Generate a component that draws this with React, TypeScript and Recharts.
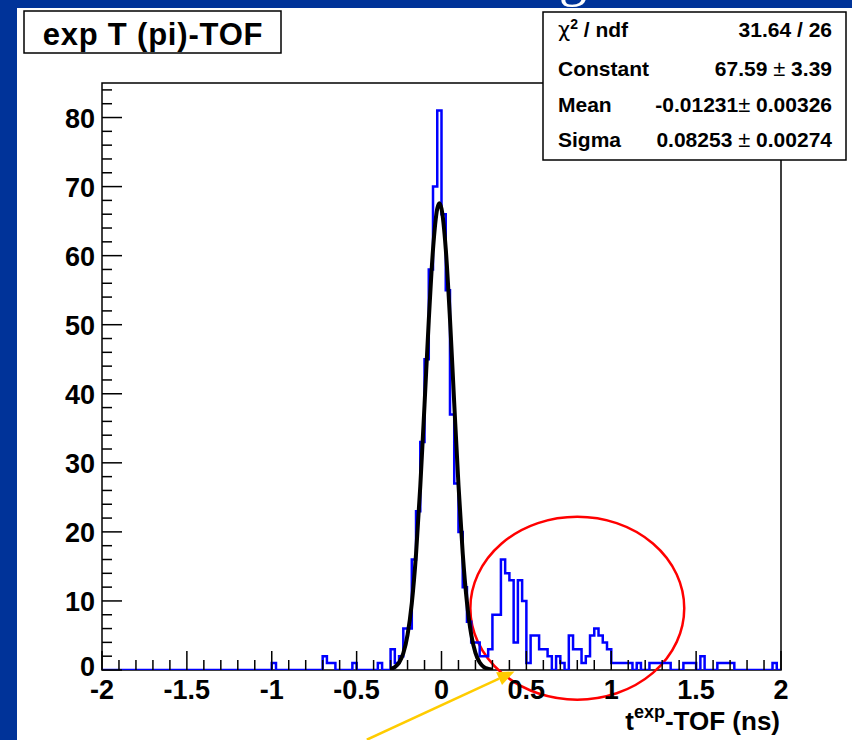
import {
  ComposedChart,
  Line,
  XAxis,
  YAxis,
  ReferenceArea,
  ReferenceLine,
} from "recharts";

// histogram: 160 bins of 0.025 ns from -2 to 2
const binStart = -2;
const binWidth = 0.025;
const binCounts = [
  // -2.0 .. -1.525
  0, 0, 0, 0, 0, 0, 0, 0, 0, 0, 0, 0, 0, 0, 0, 0, 0, 0, 0, 0,
  // -1.5 .. -1.025
  0, 0, 0, 0, 0, 0, 0, 0, 0, 0, 0, 0, 0, 0, 0, 0, 0, 0, 0, 0,
  // -1.0 .. -0.525
  1, 0, 0, 0, 0, 0, 0, 0, 0, 0, 0, 0, 2, 1, 1, 0, 0, 0, 0, 1,
  // -0.5 .. -0.025
  0, 0, 0, 0, 0, 1, 0, 0, 3, 1, 2, 6, 6, 16, 23, 33, 45, 58, 70, 81,
  // 0.0 .. 0.475
  66, 55, 37, 27, 20, 12, 7, 4, 4, 2, 2, 3, 8, 8, 16, 14, 13, 4, 13, 10,
  // 0.5 .. 0.975
  1, 5, 5, 3, 3, 2, 0, 2, 1, 0, 5, 3, 3, 1, 2, 5, 6, 5, 4, 3,
  // 1.0 .. 1.475
  1, 1, 1, 1, 1, 0, 1, 0, 0, 1, 1, 1, 1, 1, 0, 0, 0, 1, 1, 1,
  // 1.5 .. 1.975
  0, 2, 0, 0, 0, 1, 1, 1, 1, 0, 0, 0, 0, 0, 0, 0, 0, 0, 1, 0,
];

// gaussian fit curve
const fitX = [
  -0.3, -0.275, -0.25, -0.225, -0.2, -0.175, -0.15, -0.125, -0.1, -0.075, -0.05,
  -0.025, -0.0125, 0, 0.025, 0.05, 0.075, 0.1, 0.125, 0.15, 0.175, 0.2, 0.225,
  0.25, 0.275, 0.3,
];
const fitY = [
  0.15, 0.43, 1.07, 2.43, 5.09, 9.67, 16.8, 26.6, 38.4, 50.6, 60.9, 66.8, 67.6,
  66.8, 61.0, 50.8, 38.6, 26.8, 16.9, 9.77, 5.14, 2.47, 1.08, 0.43, 0.16, 0.05,
];

const xTickLabels = ["-2", "-1.5", "-1", "-0.5", "0", "0.5", "1", "1.5", "2"];
const yTickLabels = ["0", "10", "20", "30", "40", "50", "60", "70", "80"];

const statLabels = ["χ² / ndf", "Constant", "Mean", "Sigma"];
const statValues = [
  ["31.64 / 26", ""],
  ["67.59 ", " 3.39"],
  ["-0.01231", " 0.00326"],
  ["0.08253 ", " 0.00274"],
];

// annotation placement in data units
const circleBox = { x1: 0.17, x2: 1.43, y1: -4.3, y2: 22.2 };
const arrowFrom = { x: -0.44, y: -10.1 };
const arrowTo = { x: 0.43, y: -0.2 };

const histData = binCounts.map((c, k) => ({
  x: Math.round((binStart + k * binWidth) * 1000) / 1000,
  y: c,
}));
histData.push({ x: 2, y: binCounts[binCounts.length - 1] });

const fitData = fitX.map((x, i) => ({ x, y: fitY[i] }));

const xTicks: number[] = [];
for (let i = 0; i <= 40; i++) xTicks.push(Math.round((-2 + i * 0.1) * 10) / 10);
const yTicks: number[] = [];
for (let i = 0; i <= 42; i++) yTicks.push(i * 2);

const FONT = "'Liberation Sans', Arial, Helvetica, sans-serif";

const XTick = (props: any) => {
  const { x, y, payload } = props;
  const v = payload.value;
  const major = Math.abs(v * 2 - Math.round(v * 2)) < 1e-6;
  const label = xTickLabels[Math.round((v + 2) * 2)];
  return (
    <g>
      <line x1={x} y1={y} x2={x} y2={y - (major ? 19 : 10)} stroke="#000" strokeWidth={1.5} />
      {major && (
        <text x={x} y={y + 29} textAnchor="middle" fontFamily={FONT} fontWeight="bold" fontSize={27} fill="#000">
          {label}
        </text>
      )}
    </g>
  );
};

const YTick = (props: any) => {
  const { x, y, payload } = props;
  const v = payload.value;
  const major = v % 10 === 0;
  return (
    <g>
      <line x1={x} y1={y} x2={x + (major ? 20 : 10)} y2={y} stroke="#000" strokeWidth={1.5} />
      {major && (
        <text x={x - 7} y={y + (v === 0 ? 6 : 10)} textAnchor="end" fontFamily={FONT} fontWeight="bold" fontSize={27} fill="#000">
          {yTickLabels[v / 10]}
        </text>
      )}
    </g>
  );
};

const Ellipse = (p: any) => (
  <ellipse
    cx={p.x + p.width / 2}
    cy={p.y + p.height / 2}
    rx={Math.abs(p.width) / 2}
    ry={Math.abs(p.height) / 2}
    fill="none"
    stroke="#ff0000"
    strokeWidth={2.5}
  />
);

const Arrow = (p: any) => {
  const { x1, y1, x2, y2 } = p;
  const dx = x2 - x1;
  const dy = y2 - y1;
  const len = Math.sqrt(dx * dx + dy * dy);
  const ux = dx / len;
  const uy = dy / len;
  const hl = 17;
  const hw = 7;
  const bx = x2 - ux * hl;
  const by = y2 - uy * hl;
  return (
    <g>
      <line x1={x1} y1={y1} x2={bx} y2={by} stroke="#ffcc00" strokeWidth={2.5} />
      <polygon
        points={`${x2},${y2} ${bx - uy * hw},${by + ux * hw} ${bx + uy * hw},${by - ux * hw}`}
        fill="#ffcc00"
      />
    </g>
  );
};

export default function App() {
  return (
    <div style={{ position: "absolute", left: 0, top: 0, width: 852, height: 740, background: "#003399", overflow: "hidden" }}>
      <div style={{ position: "absolute", left: 17, top: 8, width: 835, height: 732, background: "#fff" }} />
      <div style={{ position: "absolute", left: 0, top: 0 }}>
        <ComposedChart width={852} height={740} margin={{ top: 83, right: 71, bottom: 0, left: 0 }}>
          <XAxis
            type="number"
            dataKey="x"
            domain={[-2, 2]}
            ticks={xTicks}
            interval={0}
            tick={<XTick />}
            tickSize={0}
            tickMargin={0}
            tickLine={false}
            axisLine={false}
            height={70}
            allowDataOverflow
          />
          <YAxis
            type="number"
            domain={[0, 85]}
            ticks={yTicks}
            interval={0}
            tick={<YTick />}
            tickSize={0}
            tickMargin={0}
            tickLine={false}
            axisLine={false}
            width={102}
            allowDataOverflow
          />
          <ReferenceArea x1={-2} x2={2} y1={0} y2={85} fill="none" stroke="#000" strokeWidth={1.5} />
          <Line
            data={histData}
            dataKey="y"
            type="stepAfter"
            stroke="#0000ff"
            strokeWidth={2.5}
            dot={false}
            isAnimationActive={false}
          />
          <Line
            data={fitData}
            dataKey="y"
            type="monotone"
            stroke="#000"
            strokeWidth={4}
            dot={false}
            isAnimationActive={false}
          />
          <ReferenceArea
            x1={circleBox.x1}
            x2={circleBox.x2}
            y1={circleBox.y1}
            y2={circleBox.y2}
            ifOverflow="visible"
            shape={<Ellipse />}
          />
          <ReferenceLine
            segment={[arrowFrom, arrowTo]}
            ifOverflow="visible"
            shape={<Arrow />}
          />
        </ComposedChart>
      </div>
      <svg width={852} height={740} style={{ position: "absolute", left: 0, top: 0, pointerEvents: "none" }}>
        <text x={559} y={-5} fontFamily="'Liberation Serif', serif" fontSize={56} fill="#fff">g</text>
        <rect x={24} y={11} width={257} height={42} fill="#fff" stroke="#000" strokeWidth={1.5} />
        <text x={153} y={45} textAnchor="middle" fontFamily={FONT} fontWeight="bold" fontSize={31} letterSpacing={0.8} fill="#000">
          exp T (pi)-TOF
        </text>
        <rect x={543} y={12} width={303} height={148} fill="#fff" stroke="#000" strokeWidth={1.5} />
        {statLabels.map((s, i) => (
          <text key={s} x={558} y={[37, 76, 112, 147][i]} fontFamily={FONT} fontWeight="bold" fontSize={21} fill="#000">
            {i === 0 ? (
              <>
                <tspan fontFamily="'DejaVu Sans', sans-serif" fontWeight="normal">χ</tspan>
                <tspan fontSize={14} dy={-8}>2</tspan>
                <tspan dy={8}> / ndf</tspan>
              </>
            ) : (
              s
            )}
          </text>
        ))}
        {statValues.map((v, i) => (
          <text key={i} x={832} y={[37, 76, 112, 147][i]} textAnchor="end" fontFamily={FONT} fontWeight="bold" fontSize={21} fill="#000" xmlSpace="preserve">
            {v[0]}
            {v[1] && (
              <>
                <tspan fontWeight="normal" fontSize={22}>±</tspan>
                {v[1]}
              </>
            )}
          </text>
        ))}
        <text x={780} y={730} textAnchor="end" fontFamily={FONT} fontWeight="bold" fontSize={26} fill="#000">
          t<tspan fontSize={18} dy={-12}>exp</tspan>
          <tspan dy={12}>-TOF (ns)</tspan>
        </text>
      </svg>
    </div>
  );
}
